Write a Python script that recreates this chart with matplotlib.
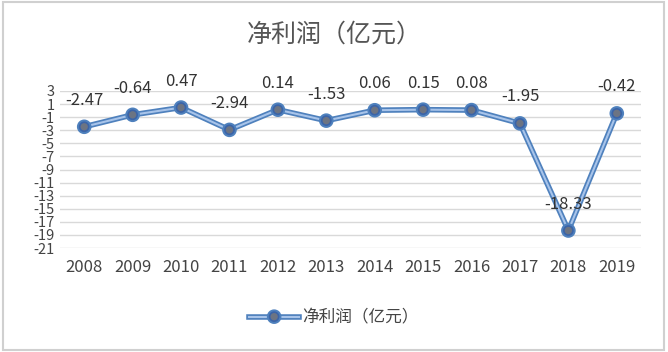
import matplotlib.pyplot as plt
import matplotlib.patheffects as pe

plt.rcParams['font.family'] = ['Noto Sans CJK SC', 'DejaVu Sans']

years = ['2008', '2009', '2010', '2011', '2012', '2013', '2014', '2015', '2016', '2017', '2018', '2019']
profit = [-2.47, -0.64, 0.47, -2.94, 0.14, -1.53, 0.06, 0.15, 0.08, -1.95, -18.33, -0.42]
label = '净利润（亿元）'
yticks = list(range(3, -22, -2))

fig = plt.figure(figsize=(6.68, 3.52), dpi=100)
ax = fig.add_axes([60 / 668, 1 - 248 / 352, 581 / 668, 157 / 352])

x = list(range(len(years)))
ax.plot(x, profit, color='#a8c4ea', lw=1.5, marker='o', ms=6.5,
        mfc='#6c7483', mec='#3b64a8', mew=1.2, label=label, zorder=3,
        path_effects=[pe.Stroke(linewidth=4.0, foreground='#4f81bd'), pe.Normal()])

for xi, v in zip(x, profit):
    ax.annotate(f'{v:.2f}', (xi, v), xytext=(0, 19), textcoords='offset points',
                ha='center', va='center', fontsize=12, color='#333333')

ax.set_xlim(-0.5, len(years) - 0.5)
ax.set_ylim(-21, 3)
ax.set_yticks(yticks)
ax.set_yticklabels([str(t) for t in yticks], fontsize=10.5, color='#444444')
ax.set_xticks(x)
ax.set_xticklabels(years, fontsize=12, color='#444444')
ax.tick_params(length=0, pad=4)
ax.tick_params(axis='x', pad=8)
ax.grid(axis='y', color='#d9d9d9', lw=1)
ax.set_axisbelow(True)
for s in ax.spines.values():
    s.set_visible(False)

fig.text(0.5, 1 - 35 / 352, label, ha='center', va='center', fontsize=18, color='#555555')
fig.legend(loc='center', bbox_to_anchor=(0.5, 1 - 318 / 352), frameon=False,
           fontsize=12, handlelength=3.0, handletextpad=0.2, labelcolor='#444444')
fig.patches.append(plt.Rectangle((0.004, 0.006), 0.99, 0.988, transform=fig.transFigure,
                                 fill=False, ec='#d0d0d0', lw=1.5))

fig.savefig('out.png', dpi=100)
